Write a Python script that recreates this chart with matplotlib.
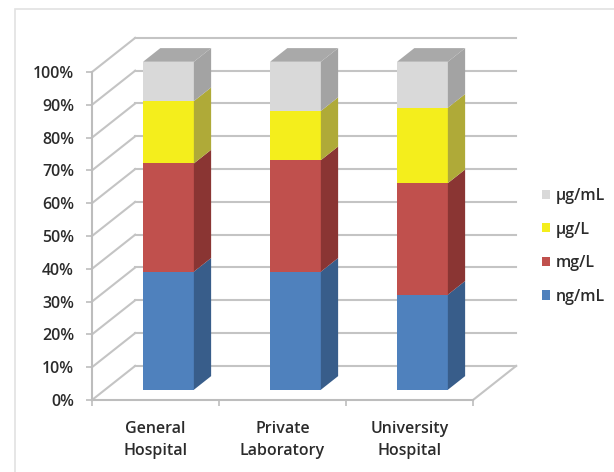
import matplotlib
matplotlib.use('Agg')
import matplotlib.pyplot as plt
from matplotlib.patches import Polygon, Patch, Rectangle
import numpy as np

# share of each reporting unit per institution (%)
categories = ['General\nHospital', 'Private\nLaboratory', 'University\nHospital']
series_names = ['ng/mL', 'mg/L', 'µg/L', 'µg/mL']
ng_ml = [36, 36, 29]
mg_l = [33, 34, 34]
ug_l = [19, 15, 23]
ug_ml = [12, 15, 14]
y_ticks = list(range(0, 101, 10))

face_colors = ['#4F81BD', '#C0504D', '#F4EE1C', '#D9D9D9']
side_colors = ['#385D8A', '#8A3533', '#AFAA38', '#A3A3A3']
top_color = '#A9A9A9'
grid_color = '#C4C4C4'
text_color = '#2B2B2B'

# oblique depth of the floor and walls, in data units (x: category, y: percent)
DX, DY = 0.34, 10.4
BAR_W = 0.40
F0, F1 = 0.30, 0.70   # front / back of the bars as a fraction of floor depth

plt.rcParams['font.family'] = ['Open Sans', 'DejaVu Sans']
plt.rcParams['font.weight'] = 'semibold'

fig = plt.figure(figsize=(6.14, 4.72), dpi=100)
fig.patches.append(Rectangle((15 / 614, -0.05), 1.0, 1 - 9 / 472 + 0.05,
                             transform=fig.transFigure, fill=False,
                             edgecolor='#E2E2E2', lw=1.2))

ax = fig.add_axes([92 / 614, 72 / 472, 381 / 614, 328 / 472])
ax.set_xlim(-0.5, 2.5)
ax.set_ylim(0, 100)
ax.patch.set_alpha(0)

# walls: diagonals on the side wall, horizontal grid on the back wall
for t in y_ticks:
    ax.plot([-0.5, -0.5 + DX], [t, t + DY], color=grid_color, lw=1.5,
            clip_on=False, zorder=0)
    ax.plot([-0.5 + DX, 2.5 + DX], [t + DY, t + DY], color=grid_color, lw=1.5,
            clip_on=False, zorder=0)
ax.plot([2.5, 2.5 + DX], [0, DY], color=grid_color, lw=1.5, clip_on=False, zorder=0)

xs = np.arange(len(categories))
series = [ng_ml, mg_l, ug_l, ug_ml]
ddx, ddy = (F1 - F0) * DX, (F1 - F0) * DY
bottoms = np.zeros(len(categories))
for vals, fc, sc in zip(series, face_colors, side_colors):
    vals = np.array(vals, dtype=float)
    ax.bar(xs + F0 * DX, vals, BAR_W, bottom=bottoms + F0 * DY, color=fc,
           zorder=2, clip_on=False)
    for x, b, h in zip(xs, bottoms, vals):
        xr = x + F0 * DX + BAR_W / 2
        y0 = b + F0 * DY
        ax.add_patch(Polygon([(xr, y0), (xr + ddx, y0 + ddy),
                              (xr + ddx, y0 + h + ddy), (xr, y0 + h)],
                             closed=True, facecolor=sc, edgecolor='none',
                             zorder=2, clip_on=False))
    bottoms = bottoms + vals

# top faces of the stacks
for x, top in zip(xs, bottoms):
    xl = x + F0 * DX - BAR_W / 2
    y0 = top + F0 * DY
    ax.add_patch(Polygon([(xl, y0), (xl + BAR_W, y0), (xl + BAR_W + ddx, y0 + ddy),
                          (xl + ddx, y0 + ddy)], closed=True, facecolor=top_color,
                         edgecolor='none', zorder=2, clip_on=False))

for side in ['top', 'right']:
    ax.spines[side].set_visible(False)
for side in ['left', 'bottom']:
    ax.spines[side].set_color('#BDBDBD')
    ax.spines[side].set_linewidth(1.5)

ax.set_yticks(y_ticks)
ax.set_yticklabels([f'{t}%' for t in y_ticks])
ax.set_xticks(xs)
ax.set_xticklabels(categories, linespacing=1.55)
ax.set_xticks(np.arange(-0.5, len(categories)), minor=True)
ax.tick_params(axis='y', length=4, width=1.2, color='#BDBDBD', pad=9,
               labelsize=11.5, labelcolor=text_color)
ax.tick_params(axis='x', which='major', length=0, pad=15, labelsize=11.5,
               labelcolor=text_color)
ax.tick_params(axis='x', which='minor', length=4, width=1.2, color='#BDBDBD')

handles = [Patch(facecolor=c, edgecolor='none', label=n)
           for n, c in zip(series_names, face_colors)][::-1]
fig.legend(handles=handles, loc='upper left', bbox_to_anchor=(542 / 614, 1 - 188 / 472),
           frameon=False, fontsize=11.5, handlelength=0.5, handleheight=0.5,
           handletextpad=0.35, labelspacing=1.1, borderpad=0, borderaxespad=0,
           labelcolor=text_color)

fig.savefig('out.png', dpi=100)
